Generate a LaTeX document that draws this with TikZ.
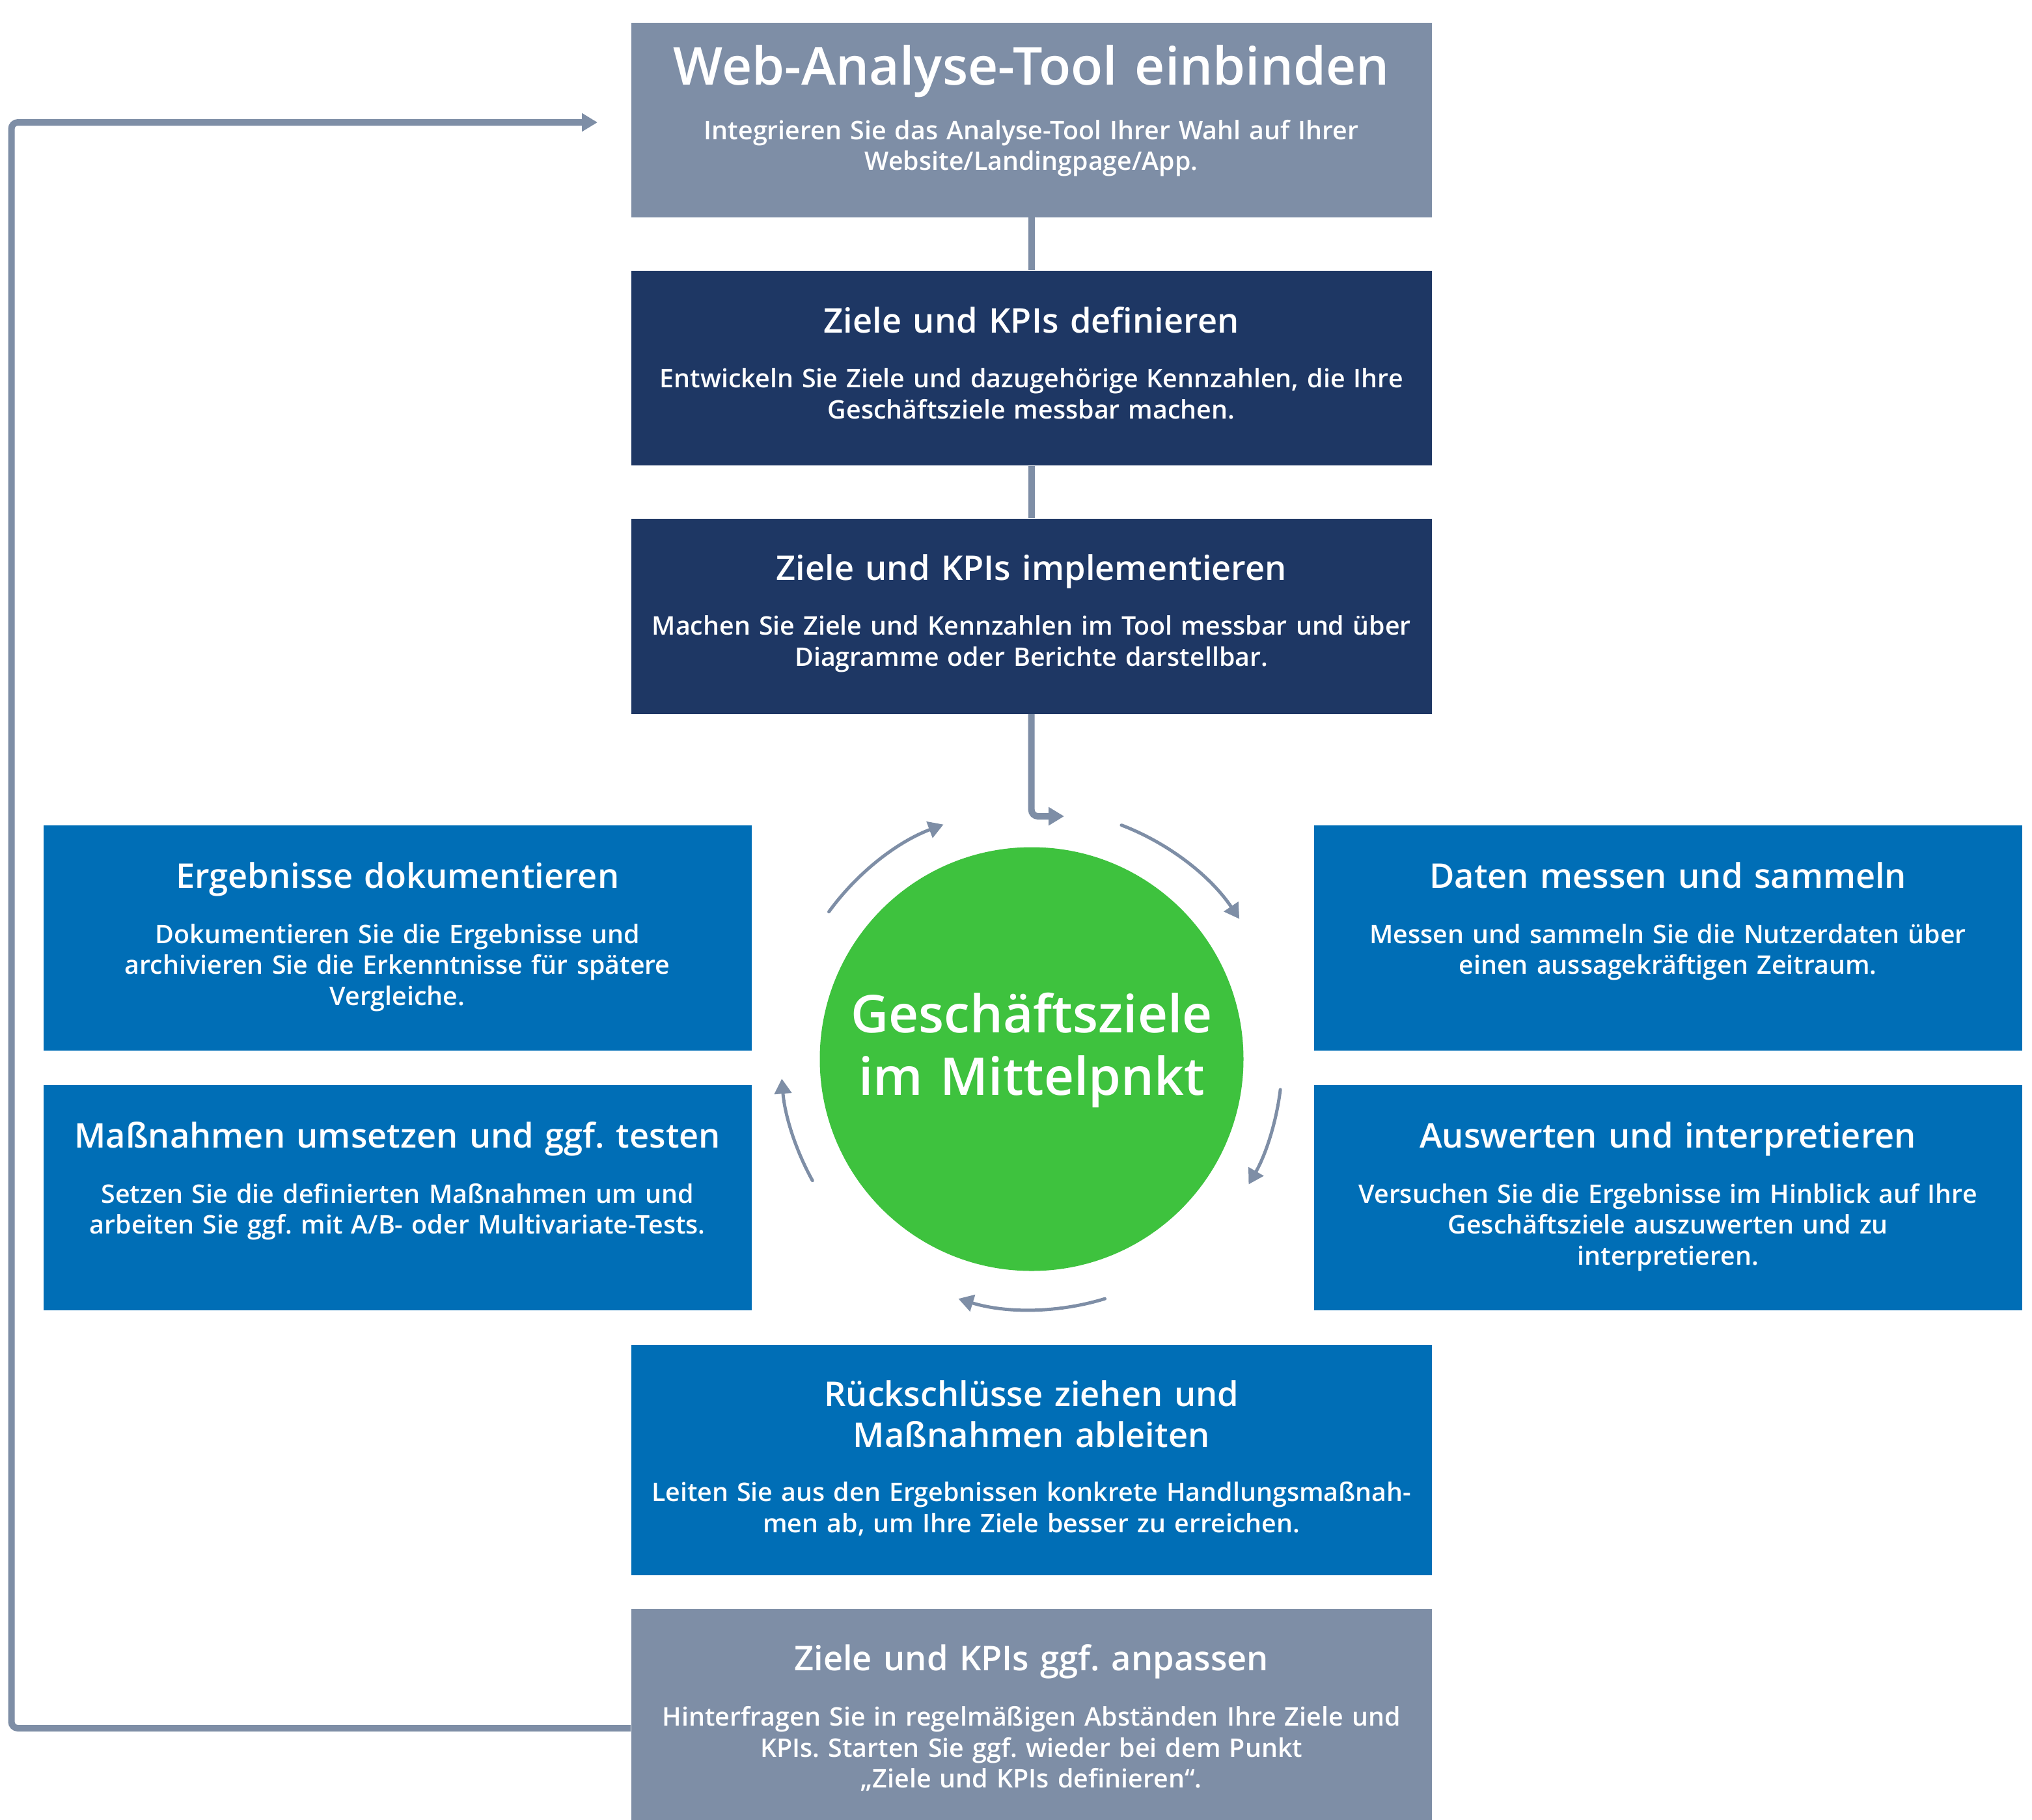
\documentclass[tikz,border=0pt]{standalone}
\usepackage{fontspec}
\IfFontExistsTF{Open Sans Semibold}{\setmainfont{Open Sans Semibold}}{\setmainfont{Open Sans}}
\usepackage{tikz}
\usetikzlibrary{calc,positioning,arrows.meta}
\frenchspacing

\definecolor{slate}{RGB}{126,142,166}
\definecolor{navy}{RGB}{30,55,100}
\definecolor{ocean}{RGB}{0,110,182}
\definecolor{leaf}{RGB}{62,194,62}

\tikzset{
  panel/.style={anchor=north west, inner sep=0, minimum width=12.30cm, minimum height=2.99cm},
  titletext/.style={anchor=base, inner sep=0, text width=14cm, align=center, text=white, font=\fontsize{14.9}{18.2}\selectfont},
  bodytext/.style={anchor=base, inner sep=0, text width=14cm, align=center, text=white, font=\fontsize{11.2}{13.65}\selectfont},
  link/.style={draw=slate, line width=1mm},
  flowtip/.style={-{Triangle[length=2.4mm,width=2.7mm]}},
  cyclearc/.style={draw=slate, line width=0.5mm, line cap=round, -{Triangle[length=2.3mm,width=2.6mm]}},
}

\begin{document}
\begin{tikzpicture}
  \useasboundingbox (0,0) rectangle (31.22,-27.96);

  %%%%% boxes %%%%%
  \node[panel, fill=slate] (web) at (9.69,-0.34) {};
  \node[panel, fill=navy, below=0.81cm of web] (def) {};
  \node[panel, fill=navy, below=0.80cm of def, minimum height=3.00cm] (impl) {};

  \node[panel, fill=ocean, minimum width=10.88cm, minimum height=3.46cm] (doku) at (0.66,-12.67) {};
  \node[panel, fill=ocean, minimum width=10.88cm, minimum height=3.46cm] (massn) at (0.66,-16.66) {};
  \node[panel, fill=ocean, minimum width=10.88cm, minimum height=3.46cm] (daten) at (20.18,-12.67) {};
  \node[panel, fill=ocean, minimum width=10.88cm, minimum height=3.46cm] (ausw) at (20.18,-16.66) {};

  \node[panel, fill=ocean, minimum height=3.54cm] (rueck) at (9.69,-20.65) {};
  \node[panel, fill=slate, minimum height=3.25cm] (anpassen) at (9.69,-24.71) {};

  \node[circle, fill=leaf, minimum size=6.51cm, inner sep=0] (goal) at (15.85,-16.27) {};

  %%%%% texts %%%%%
  \node[titletext, font=\fontsize{22.9}{28}\selectfont] (webtitle) at ([yshift=-0.96cm]web.north) {Web-Analyse-Tool einbinden};
  \node[bodytext] (webbody) at ([yshift=-1.80cm]web.north) {Integrieren Sie das Analyse-Tool Ihrer Wahl auf Ihrer\\Website/Landingpage/App.};

  \node[titletext] (deftitle) at ([yshift=-0.96cm]def.north) {Ziele und KPIs definieren};
  \node[bodytext] (defbody) at ([yshift=-1.80cm]def.north) {Entwickeln Sie Ziele und dazugehörige Kennzahlen, die Ihre\\Geschäftsziele messbar machen.};

  \node[titletext] (impltitle) at ([yshift=-0.96cm]impl.north) {Ziele und KPIs implementieren};
  \node[bodytext] (implbody) at ([yshift=-1.80cm]impl.north) {Machen Sie Ziele und Kennzahlen im Tool messbar und über\\Diagramme oder Berichte darstellbar.};

  \node[titletext] (dokutitle) at ([yshift=-0.97cm]doku.north) {Ergebnisse dokumentieren};
  \node[bodytext] (dokubody) at ([yshift=-1.82cm]doku.north) {Dokumentieren Sie die Ergebnisse und\\archivieren Sie die Erkenntnisse für spätere\\Vergleiche.};

  \node[titletext] (massntitle) at ([yshift=-0.97cm]massn.north) {Maßnahmen umsetzen und ggf. testen};
  \node[bodytext] (massnbody) at ([yshift=-1.82cm]massn.north) {Setzen Sie die definierten Maßnahmen um und\\arbeiten Sie ggf. mit A/B- oder Multivariate-Tests.};

  \node[titletext] (datentitle) at ([yshift=-0.97cm]daten.north) {Daten messen und sammeln};
  \node[bodytext] (datenbody) at ([yshift=-1.82cm]daten.north) {Messen und sammeln Sie die Nutzerdaten über\\einen aussagekräftigen Zeitraum.};

  \node[titletext] (auswtitle) at ([yshift=-0.97cm]ausw.north) {Auswerten und interpretieren};
  \node[bodytext] (auswbody) at ([yshift=-1.82cm]ausw.north) {Versuchen Sie die Ergebnisse im Hinblick auf Ihre\\Geschäftsziele auszuwerten und zu\\interpretieren.};

  \node[titletext] (ruecktitle) at ([yshift=-0.95cm]rueck.north) {Rückschlüsse ziehen und\\Maßnahmen ableiten};
  \node[bodytext] (rueckbody) at ([yshift=-2.41cm]rueck.north) {Leiten Sie aus den Ergebnissen konkrete Handlungsmaßnah-\\men ab, um Ihre Ziele besser zu erreichen.};

  \node[titletext] (anpassentitle) at ([yshift=-0.95cm]anpassen.north) {Ziele und KPIs ggf. anpassen};
  \node[bodytext] (anpassenbody) at ([yshift=-1.80cm]anpassen.north) {Hinterfragen Sie in regelmäßigen Abständen Ihre Ziele und\\KPIs. Starten Sie ggf. wieder bei dem Punkt\\„Ziele und KPIs definieren“.};

  \node[anchor=base, inner sep=0, text width=8cm, align=center, text=white, font=\fontsize{22.8}{27.5}\selectfont] (goaltext) at ([yshift=0.41cm]goal.center) {Geschäftsziele\\im Mittelpnkt};

  %%%%% connectors %%%%%
  \draw[link] (web) -- (def);
  \draw[link] (def) -- (impl);

  \coordinate (goalin) at (16.35,-12.54);
  \draw[link, flowtip, rounded corners=1mm] (impl.south) |- (goalin);

  \coordinate (webin) at (9.18,-1.88);
  \coordinate (loopcorner) at (0.175,-1.88);
  \draw[link, flowtip, rounded corners=1mm] ([yshift=-1.84cm]anpassen.north west) -| (loopcorner) -- (webin);

  % cycle around the goal
  \foreach \a/\b in {69/34, -7/-30, -73/-107, 209/184.5, 144/110.6}
    \draw[cyclearc] ([shift={(\a:3.85)}]goal.center) arc (\a:\b:3.85);
\end{tikzpicture}
\end{document}
